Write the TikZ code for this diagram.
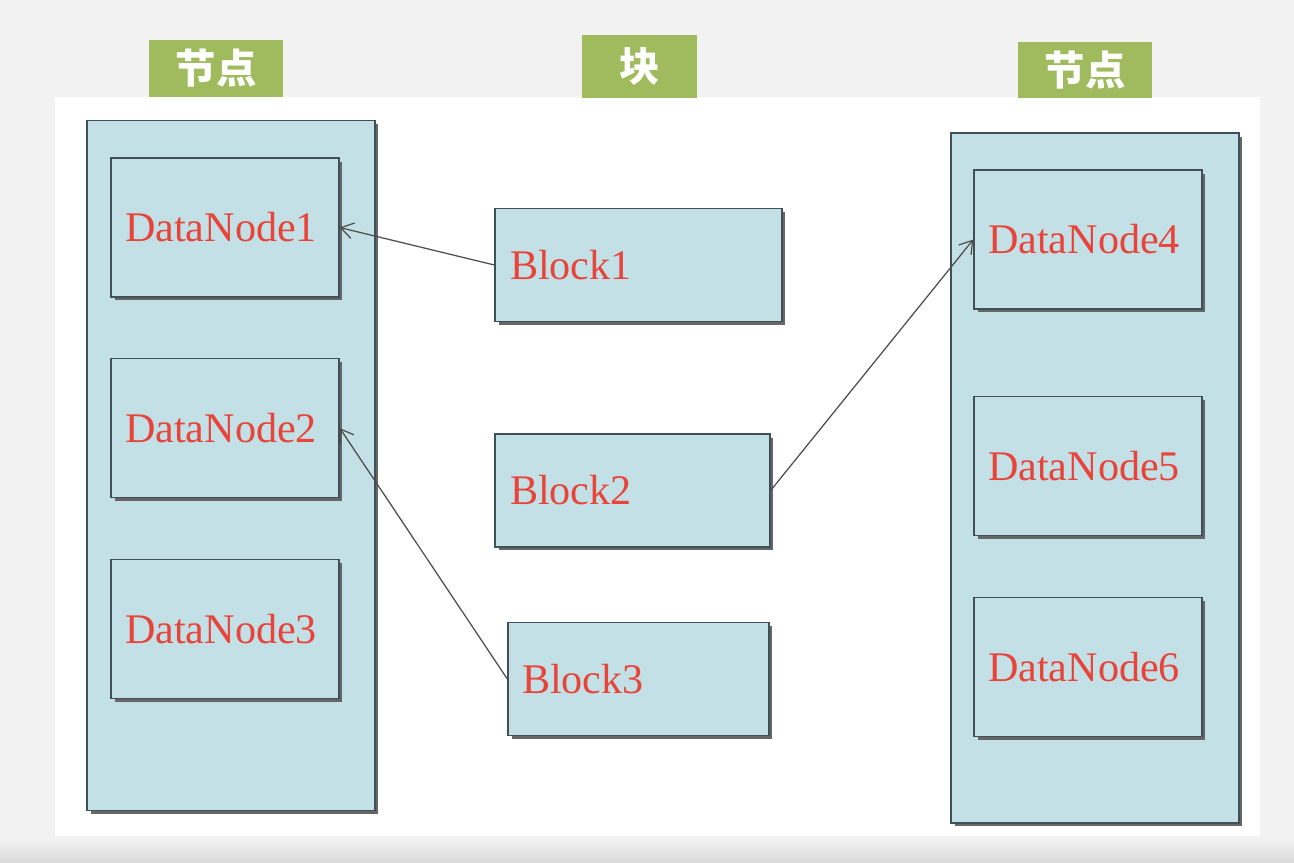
\documentclass[tikz,border=0pt]{standalone}
\usepackage{fontspec}
\setmainfont{Liberation Serif}
\newfontfamily\cjk{Noto Sans CJK SC}
\usepackage{tikz}
\usetikzlibrary{arrows.meta,positioning,shadows}
\definecolor{paneblue}{HTML}{C3E0E6}
\definecolor{edgegray}{HTML}{3F5058}
\definecolor{tagGreen}{HTML}{9FBB5D}
\definecolor{nodeRed}{HTML}{E8443A}
\definecolor{pageGray}{HTML}{F2F2F2}

\begin{document}
\begin{tikzpicture}[x=0.02cm,y=-0.02cm]
  \tikzset{
    box/.style={draw=edgegray, fill=paneblue, line width=0.8pt,
      general shadow={fill=black!60, shadow xshift=0.07cm, shadow yshift=-0.07cm}},
    column/.style={box, minimum width=5.76cm, minimum height=13.8cm, inner sep=0pt},
    dnode/.style={box, text width=4.0cm, inner xsep=0.28cm, minimum height=2.78cm, align=left,
      text=nodeRed, font=\fontsize{24}{28}\selectfont},
    blk/.style={box, inner xsep=0.3cm, minimum height=2.26cm, align=left,
      text=nodeRed, font=\fontsize{24}{28}\selectfont},
    tag/.style={fill=tagGreen, text=white, font=\cjk\bfseries\fontsize{23}{27}\selectfont, inner sep=0pt},
    link/.style={-{Straight Barb[length=7pt,width=9pt]}, black!70, line width=0.7pt}
  }

  % page and white panel
  \fill[pageGray] (0,0) rectangle (1294,862);
  \fill[white] (55,97) rectangle (1260,836);
  \shade[top color=pageGray, bottom color=black!15] (0,840) rectangle (1294,862);

  % headings
  \node[tag, minimum width=2.7cm, minimum height=1.16cm] (tagL) at (216,68.5) {节点};
  \node[tag, minimum width=2.3cm, minimum height=1.26cm] (tagM) at (639.5,66.5) {块};
  \node[tag, minimum width=2.68cm, minimum height=1.12cm] (tagR) at (1085,70) {节点};

  % node columns
  \node[column] (colL) at (231,465.5) {};
  \node[column] (colR) at (1095,478) {};

  % data nodes
  \node[dnode] (dn1) at (225,227.5) {DataNode1};
  \node[dnode] (dn2) at (225,428) {DataNode2};
  \node[dnode] (dn3) at (225,629) {DataNode3};
  \node[dnode] (dn4) at (1088,239.5) {DataNode4};
  \node[dnode] (dn5) at (1088,466) {DataNode5};
  \node[dnode] (dn6) at (1088,667) {DataNode6};

  % blocks
  \node[blk, text width=5.14cm] (b1) at (638.5,265) {Block1};
  \node[blk, text width=4.9cm] (b2) at (632.5,490.5) {Block2};
  \node[blk, text width=4.66cm, inner xsep=0.28cm] (b3) at (638.5,679) {Block3};

  % placement arrows
  \draw[link] (b1.west) -- (dn1.east);
  \draw[link] (b3.west) -- (dn2.east);
  \draw[link] (b2.east) -- (dn4.west);
\end{tikzpicture}
\end{document}
